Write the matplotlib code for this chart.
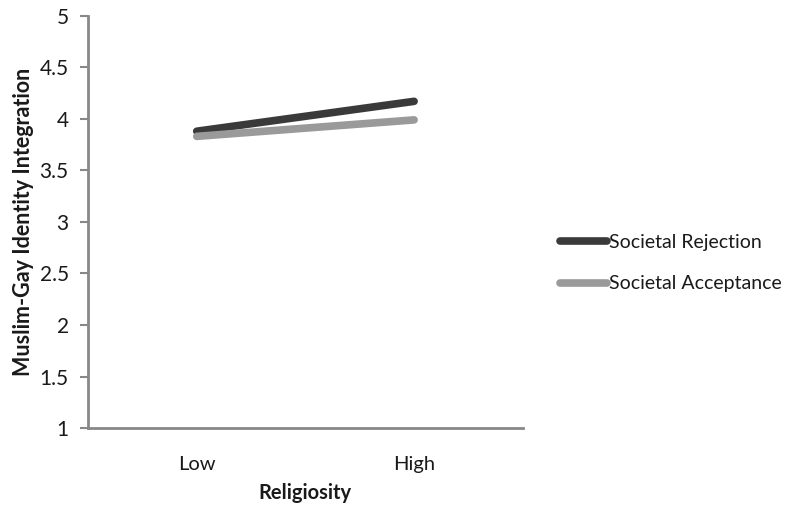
import matplotlib
matplotlib.use("Agg")
import matplotlib.pyplot as plt

categories = ["Low", "High"]
rejection = [3.88, 4.17]
acceptance = [3.83, 3.99]
series_names = ["Societal Rejection", "Societal Acceptance"]
yticks = [1, 1.5, 2, 2.5, 3, 3.5, 4, 4.5, 5]
ytick_labels = ["1", "1.5", "2", "2.5", "3", "3.5", "4", "4.5", "5"]

plt.rcParams['font.family'] = ['Lato', 'DejaVu Sans']

fig = plt.figure(figsize=(8.08, 5.09), dpi=100)
ax = fig.add_axes([0.109, 0.159, 0.538, 0.810])

x = list(range(len(categories)))
ax.plot(x, rejection, color="#3a3a3a", lw=5.5, solid_capstyle="round", label=series_names[0])
ax.plot(x, acceptance, color="#9a9a9a", lw=5.5, solid_capstyle="round", label=series_names[1])

ax.set_xlim(-0.5, 1.5)
ax.set_ylim(1, 5)
ax.set_yticks(yticks)
ax.set_yticklabels(ytick_labels, fontsize=15, color="#1a1a1a")
ax.set_xticks(x)
ax.set_xticklabels(categories, fontsize=14.5, color="#1a1a1a")
ax.tick_params(axis='x', length=0, pad=20)
ax.tick_params(axis='y', length=6, width=1.5, color="#888888", pad=8)

for s in ["top", "right"]:
    ax.spines[s].set_visible(False)
for s in ["left", "bottom"]:
    ax.spines[s].set_color("#888888")
    ax.spines[s].set_linewidth(2)

ax.set_xlabel("Religiosity", fontsize=14.5, fontweight="bold", color="#1a1a1a", labelpad=7)
ax.set_ylabel("Muslim-Gay Identity Integration", fontsize=15.5, fontweight="bold", color="#1a1a1a", labelpad=4)

leg = ax.legend(loc="center left", bbox_to_anchor=(1.045, 0.40), frameon=False,
                fontsize=14, handlelength=2.4, handletextpad=0.15, labelspacing=1.25)
for t in leg.get_texts():
    t.set_color("#1a1a1a")

fig.savefig("out.png", dpi=100)
